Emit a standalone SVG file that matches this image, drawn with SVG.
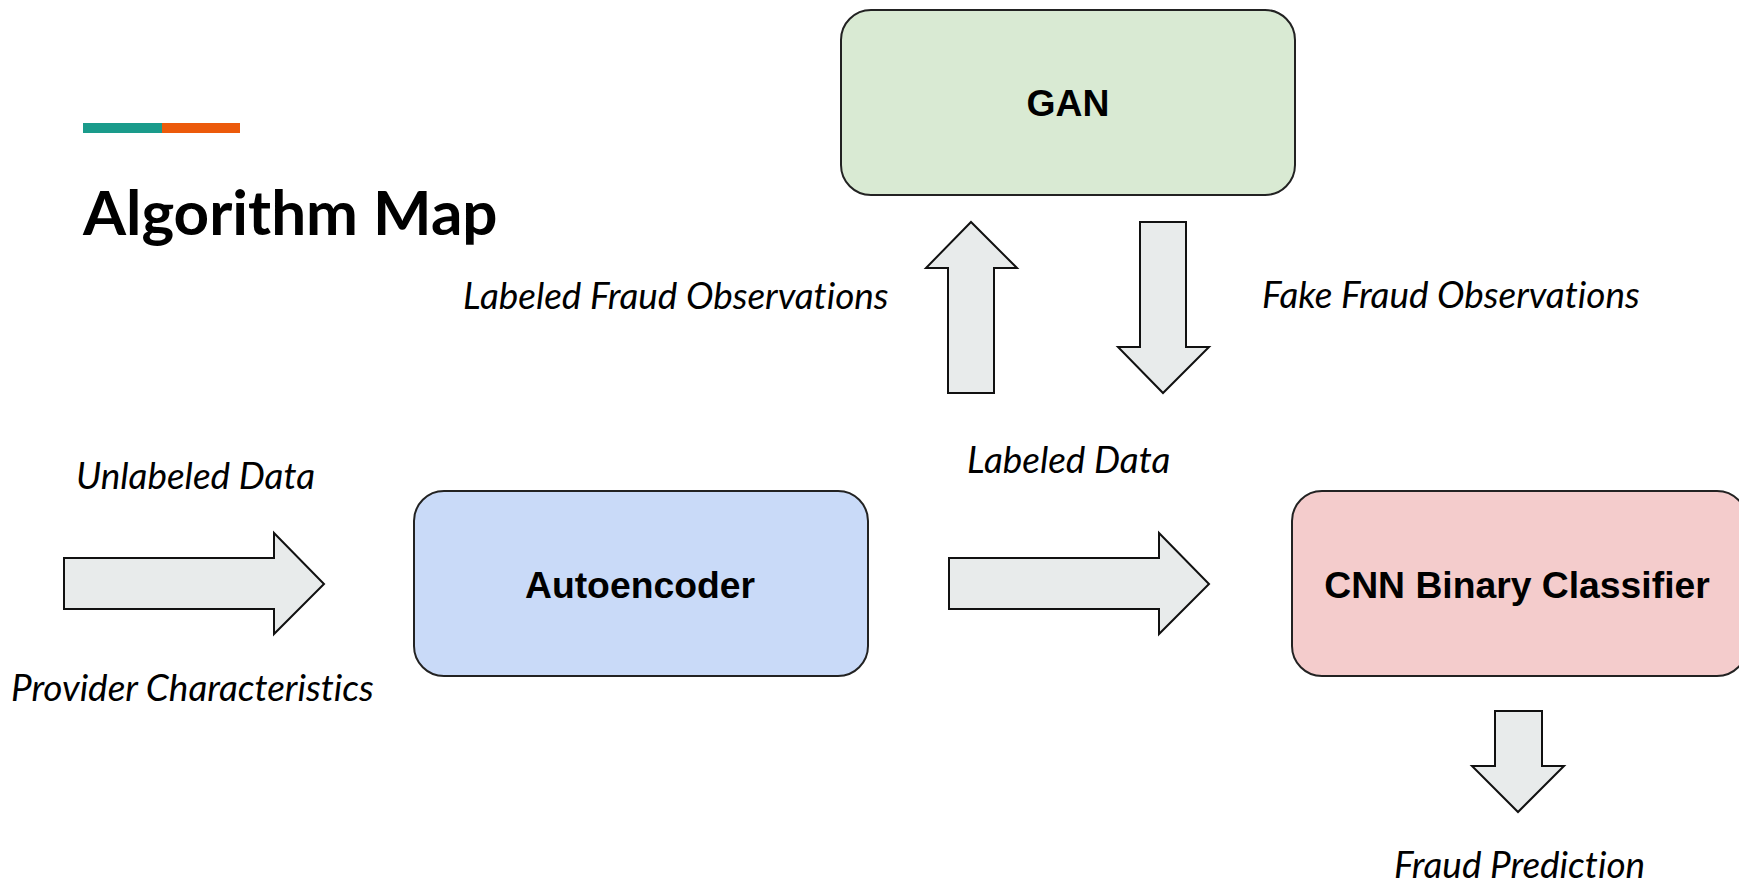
<svg xmlns="http://www.w3.org/2000/svg" width="1739" height="885" viewBox="0 0 1739 885">
<style>
.node rect{stroke:#222;stroke-width:2}
.nt{font-family:"Liberation Sans",Arial,sans-serif;font-weight:bold;font-size:37.3px;fill:#000;text-anchor:middle}
.lbl{font-family:Lato,"Liberation Sans",sans-serif;font-style:italic;font-size:36.9px;fill:#000;font-variant-ligatures:none}
.arr{fill:#e8ebeb;stroke:#111;stroke-width:2;stroke-linejoin:miter}
</style>
<rect width="1739" height="885" fill="#fff"/>
<g id="header">
<rect x="83" y="123" width="79" height="10" fill="#1a9b8b"/>
<rect x="162" y="123" width="78" height="10" fill="#ec5a0b"/>
<text x="83" y="235" font-family="Lato,'Liberation Sans',sans-serif" font-weight="bold" font-size="62" fill="#000">Algorithm Map</text>
</g>
<g id="gan" class="node">
<rect x="841" y="10" width="454" height="185" rx="30" fill="#d9ead3"/>
<text class="nt" x="1068" y="116">GAN</text>
</g>
<g id="autoencoder" class="node">
<rect x="414" y="491" width="454" height="185" rx="30" fill="#c9daf8"/>
<text class="nt" x="640" y="598">Autoencoder</text>
</g>
<g id="cnn" class="node">
<rect x="1292" y="491" width="455" height="185" rx="30" fill="#f4cccc"/>
<text class="nt" x="1517" y="598">CNN Binary Classifier</text>
</g>
<g id="connectors">
<polygon class="arr" points="64,558 274,558 274,533 324,584 274,634 274,609 64,609"/>
<polygon class="arr" points="949,558 1159,558 1159,533 1209,584 1159,634 1159,609 949,609"/>
<polygon class="arr" points="948,393 948,268 926,268 971,222 1017,268 994,268 994,393"/>
<polygon class="arr" points="1140,222 1186,222 1186,347 1209,347 1163,393 1118,347 1140,347"/>
<polygon class="arr" points="1495,711 1542,711 1542,766 1564,766 1518,812 1472,766 1495,766"/>
</g>
<g id="labels">
<text class="lbl" x="76" y="489">Unlabeled Data</text>
<text class="lbl" x="11" y="701">Provider Characteristics</text>
<text class="lbl" x="463" y="309">Labeled Fraud Observations</text>
<text class="lbl" x="1262" y="308">Fake Fraud Observations</text>
<text class="lbl" x="967" y="473">Labeled Data</text>
<text class="lbl" x="1394" y="878">Fraud Prediction</text>
</g>
</svg>
